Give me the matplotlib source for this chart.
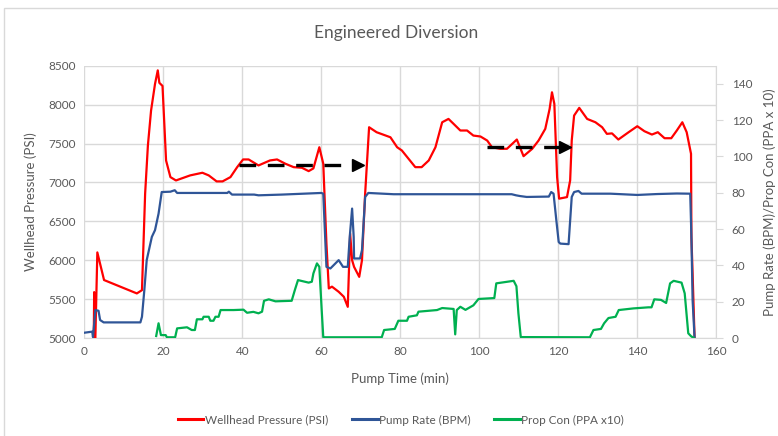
"""
Engineered Diversion treatment plot: wellhead pressure, pump rate and
proppant concentration vs pump time.
"""

import matplotlib
matplotlib.use("Agg")
import matplotlib.pyplot as plt
from matplotlib.patches import Rectangle

# === Data ===
# Wellhead pressure (PSI), left axis
WHP_T = [2.4, 2.5, 2.8, 3.3, 5.0, 13.3, 14.6, 15.4, 16.1, 16.9, 17.9, 18.6, 19.0, 19.8,
         20.7, 21.8, 23.2, 26.8, 29.9, 31.5, 33.5, 35.0, 37.0, 38.7, 40.2, 41.6, 44.1,
         47.0, 48.8, 50.9, 53.0, 55.1, 56.8, 58.0, 59.5, 60.5, 61.3, 61.9, 62.7, 64.4,
         65.7, 66.7, 67.3, 67.8, 68.3, 69.6, 70.3, 71.1, 72.1, 74.0, 77.5, 79.2, 80.4,
         82.1, 83.8, 85.4, 87.2, 88.9, 90.6, 92.2, 93.5, 95.2, 96.9, 98.5, 100.3, 102.0,
         103.2, 105.3, 107.0, 109.5, 111.2, 113.4, 115.0, 116.7, 117.8, 118.4, 119.0,
         119.7, 120.2, 122.2, 123.0, 123.4, 124.0, 125.3, 127.3, 129.4, 131.1, 132.3,
         133.6, 135.2, 137.8, 140.0, 141.8, 143.7, 145.2, 146.9, 148.6, 150.0, 151.4,
         152.5, 153.6, 153.7, 154.0, 154.5]
WHP_PSI = [5000, 5590, 5000, 6100, 5745, 5573, 5615, 6855, 7474, 7923, 8265, 8440, 8280, 8240,
           7282, 7068, 7025, 7090, 7124, 7090, 7013, 7013, 7068, 7196, 7295, 7295, 7218,
           7282, 7295, 7240, 7196, 7188, 7145, 7180, 7452, 7240, 6214, 5637, 5660, 5594,
           5530, 5401, 6342, 6000, 5914, 5786, 6000, 6855, 7709, 7645, 7580, 7452, 7410,
           7303, 7196, 7196, 7282, 7452, 7773, 7816, 7752, 7667, 7667, 7602, 7590, 7538,
           7452, 7432, 7432, 7551, 7337, 7432, 7538, 7688, 7944, 8158, 8009,
           7068, 6791, 6811, 7025, 7538, 7859, 7958, 7816, 7773, 7709, 7624,
           7630, 7551, 7645, 7722, 7658, 7615, 7645, 7568, 7568, 7667, 7773,
           7645, 7368, 6299, 5829, 5000]

# Pump rate (BPM), right axis
RATE_T = [0.0, 2.0, 2.2, 2.8, 3.6, 4.0, 4.9, 14.2, 14.6, 15.2, 15.8, 17.1, 17.9, 18.8, 19.6,
          21.8, 22.9, 23.5, 36.2, 36.6, 37.4, 43.0, 44.1, 50.0, 60.0, 60.5, 61.3, 62.3, 64.4,
          65.5, 66.7, 67.2, 67.8, 68.2, 68.3, 69.8, 70.3, 71.1, 71.9, 78.3, 95.2, 108.2,
          109.3, 110.3, 112.0, 117.6, 118.2, 118.8, 119.5, 120.1, 120.5, 122.6, 123.4, 124.0,
          125.1, 125.9, 133.2, 140.0, 145.0, 150.0, 153.4, 153.7, 154.0, 154.5]
RATE_BPM = [2.9, 3.5, 0.5, 15.4, 15.0, 9.9, 8.6, 8.6, 11.7, 26.4, 42.9, 55.7, 59.4, 68.5, 80.4,
            80.6, 81.4, 79.9, 79.9, 80.6, 79.0, 79.0, 78.6, 79.0, 79.9, 79.5, 39.2, 38.3, 42.9,
            39.2, 39.2, 55.7, 71.3, 55.7, 43.8, 43.8, 48.4, 77.7, 79.9, 79.2, 79.2, 79.2,
            78.6, 78.2, 77.7, 77.9, 80.4, 79.5, 64.9, 52.9, 52.0, 51.7, 77.7, 80.4,
            81.0, 79.5, 79.5, 78.8, 79.3, 79.6, 79.5, 55.7, 20.9, 0.0]

# Proppant concentration (PPA x10), right axis
PROP_T = [18.2, 18.8, 19.4, 20.6, 20.9, 23.0, 23.5, 26.0, 27.2, 28.0, 28.5, 29.9, 30.2, 31.5,
          31.9, 32.7, 33.2, 34.0, 34.5, 37.8, 40.3, 41.2, 42.8, 44.1, 45.0, 45.5, 46.7, 48.4,
          52.5, 53.3, 54.1, 56.8, 57.6, 58.0, 58.9, 59.5, 60.1, 60.5, 75.3, 75.9, 78.6, 79.5,
          81.7, 82.1, 84.2, 84.6, 89.3, 90.6, 93.5, 93.9, 94.3, 95.2, 96.5, 98.5, 99.8, 103.8,
          104.3, 108.7, 109.4, 109.9, 110.5, 128.0, 128.9, 130.8, 131.6, 132.7, 134.5, 135.3,
          139.0, 142.8, 143.6, 144.3, 146.0, 147.3, 148.3, 149.2, 151.2, 152.0, 152.9, 153.6,
          154.3]
PROP_PPA10 = [1.1, 8.1, 1.6, 1.6, 0.4, 0.4, 5.3, 5.9, 4.4, 4.4, 10.3, 10.3, 11.7, 11.7,
              9.5, 9.5, 11.7, 11.7, 15.4, 15.4, 15.6, 13.9, 14.4, 13.6, 14.5, 20.5, 21.3, 20.2,
              20.5, 26.4, 31.9, 30.5, 31.0, 35.6, 41.1, 39.2, 15.4, 0.4, 0.4, 4.4, 5.0, 9.5,
              9.5, 11.7, 12.5, 14.5, 15.4, 16.5, 16.0, 2.0, 15.4, 17.2, 15.5, 18.0, 21.5, 22.0,
              30.1, 31.5, 28.5, 13.6, 0.5, 0.4, 4.4, 5.0, 8.1, 11.0, 11.7, 15.4,
              16.3, 16.9, 16.9, 21.3, 21.0, 19.3, 30.1, 31.5, 30.5, 24.6, 2.6, 1.0,
              0.0]

# Diversion arrows: start time, tip time, pressure level
ARROW_START = [39.2, 101.9]
ARROW_TIP = [70.8, 123.2]
ARROW_PSI = [7218, 7450]

X_TICKS = [0, 20, 40, 60, 80, 100, 120, 140, 160]
LEFT_TICKS = [5000, 5500, 6000, 6500, 7000, 7500, 8000, 8500]
RIGHT_TICKS = [0, 20, 40, 60, 80, 100, 120, 140]

RED = "#FF0000"
BLUE = "#2F5597"
GREEN = "#00B050"
TEXT = "#595959"
GRID = "#D9D9D9"

plt.rcParams["font.family"] = ["Lato", "DejaVu Sans"]


def main():
    fig = plt.figure(figsize=(7.78, 4.36), dpi=100)
    ax = fig.add_axes([84.3 / 778, 1 - 338 / 436, 632 / 778, (338 - 65.7) / 436])
    ax2 = ax.twinx()

    # primary axis: pressure
    ax.plot(WHP_T, WHP_PSI, color=RED, lw=1.6, label="Wellhead Pressure (PSI)",
            solid_joinstyle="round", zorder=3)
    ax.set_xlim(0, 160)
    ax.set_ylim(5000, 8500)
    ax.set_xticks(X_TICKS)
    ax.set_yticks(LEFT_TICKS)
    ax.grid(True, color=GRID, lw=1.0)
    ax.set_axisbelow(True)
    for s in ["left", "top", "right"]:
        ax.spines[s].set_visible(False)
    ax.spines["bottom"].set_color(GRID)
    ax.tick_params(axis="both", length=0, colors=TEXT, labelsize=8.5, pad=6)
    ax.set_xlabel("Pump Time (min)", color=TEXT, fontsize=9.5, labelpad=11)
    ax.set_ylabel("Wellhead Pressure (PSI)", color=TEXT, fontsize=9.5, labelpad=8)

    # diversion arrows
    for x0, x1, y in zip(ARROW_START, ARROW_TIP, ARROW_PSI):
        ax.plot([x0, x1 - 1.0], [y, y], color="black", lw=2.4,
                linestyle=(0, (5, 3.5)), zorder=5)
        ax.plot([x1 - 1.4], [y], marker=">", ms=8, color="black", zorder=5)

    # secondary axis: rate and proppant
    ax2.plot(RATE_T, RATE_BPM, color=BLUE, lw=1.6, label="Pump Rate (BPM)")
    ax2.plot(PROP_T, PROP_PPA10, color=GREEN, lw=1.6, label="Prop Con (PPA x10)")
    ax2.set_ylim(0, 150)
    ax2.set_yticks(RIGHT_TICKS)
    for s in ["left", "top", "bottom"]:
        ax2.spines[s].set_visible(False)
    ax2.spines["right"].set_color(GRID)
    ax2.tick_params(axis="y", length=5, color=GRID, labelcolor=TEXT, labelsize=8.5, pad=6)
    ax2.set_ylabel("Pump Rate (BPM)/Prop Con (PPA x 10)", color=TEXT, fontsize=9.5,
                   labelpad=8)

    fig.text(0.509, 1 - 33 / 436, "Engineered Diversion", ha="center", va="center",
             color=TEXT, fontsize=12.5)

    h1, l1 = ax.get_legend_handles_labels()
    h2, l2 = ax2.get_legend_handles_labels()
    leg = fig.legend(h1 + h2, l1 + l2, loc="center", bbox_to_anchor=(0.515, 1 - 420 / 436),
                     ncol=3, frameon=False, fontsize=8.5, labelcolor=TEXT, handlelength=2.2,
                     handletextpad=0.1, columnspacing=2.0)
    for line in leg.get_lines():
        line.set_linewidth(2.2)

    # chart border
    fig.add_artist(Rectangle((4 / 778, -0.05), 1.2, 1.05 - 8 / 436,
                             transform=fig.transFigure, fill=False,
                             edgecolor=GRID, lw=1.0))

    fig.savefig("out.png", dpi=100)
    plt.close(fig)


if __name__ == "__main__":
    main()
